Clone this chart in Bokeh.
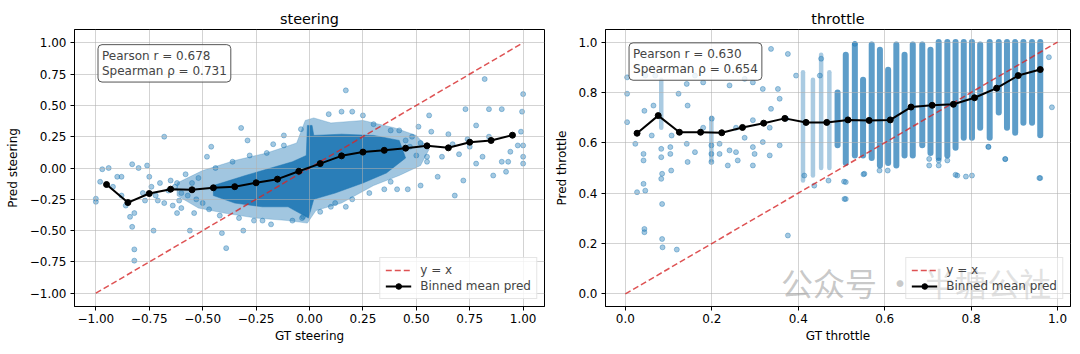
from bokeh.plotting import figure
from bokeh.layouts import row
from bokeh.models import Label, FixedTicker
from bokeh.embed import file_html
from bokeh.resources import INLINE

# ---------------- data ----------------
ST_TICKS = [-1.0, -0.75, -0.5, -0.25, 0.0, 0.25, 0.5, 0.75, 1.0]
ST_TICK_LABELS = ["\u22121.00", "\u22120.75", "\u22120.50", "\u22120.25", "0.00", "0.25", "0.50", "0.75", "1.00"]
TH_TICKS = [0.0, 0.2, 0.4, 0.6, 0.8, 1.0]
TH_TICK_LABELS = ["0.0", "0.2", "0.4", "0.6", "0.8", "1.0"]

ST_STATS = (0.678, 0.731)
TH_STATS = (0.630, 0.654)

ST_REF = [-1.0, 1.0]
TH_REF = [0.0, 1.0]

ST_BIN_X = [-0.95, -0.85, -0.75, -0.65, -0.55, -0.45, -0.35, -0.25, -0.15, -0.05,
            0.05, 0.15, 0.25, 0.35, 0.45, 0.55, 0.65, 0.75, 0.85, 0.95]
ST_BIN_Y = [-0.132, -0.276, -0.204, -0.169, -0.174, -0.158, -0.149, -0.118, -0.089, -0.026,
            0.035, 0.097, 0.127, 0.141, 0.158, 0.177, 0.161, 0.206, 0.220, 0.262]

TH_BIN_X = [0.027, 0.076, 0.125, 0.174, 0.223, 0.271, 0.320, 0.369, 0.418, 0.466,
            0.515, 0.564, 0.613, 0.661, 0.710, 0.759, 0.808, 0.859, 0.909, 0.960]
TH_BIN_Y = [0.638, 0.708, 0.642, 0.642, 0.640, 0.661, 0.678, 0.697, 0.681, 0.681,
            0.691, 0.689, 0.691, 0.742, 0.749, 0.753, 0.779, 0.817, 0.867, 0.891]

# steering: outline of the dense point cloud (outer halo and solid core)
ST_HALO_X = [-0.62, -0.5, -0.35, -0.2, -0.06, -0.02, 0.02, 0.1, 0.25, 0.4, 0.5, 0.56, 0.52,
             0.42, 0.3, 0.15, 0.03, -0.01, -0.1, -0.25, -0.4, -0.52, -0.62]
ST_HALO_Y = [-0.12, -0.02, 0.06, 0.12, 0.2, 0.38, 0.4, 0.36, 0.38, 0.32, 0.26, 0.15, 0.02,
             -0.06, -0.14, -0.28, -0.34, -0.44, -0.42, -0.4, -0.36, -0.32, -0.22]
ST_CORE_X = [-0.45, -0.3, -0.18, -0.08, -0.015, -0.01, 0.012, 0.02, 0.15, 0.3, 0.42, 0.45,
             0.36, 0.25, 0.12, 0.02, -0.005, -0.1, -0.22, -0.35, -0.45]
ST_CORE_Y = [-0.14, -0.06, 0.0, 0.05, 0.1, 0.34, 0.34, 0.26, 0.27, 0.26, 0.22, 0.08,
             -0.04, -0.12, -0.2, -0.25, -0.4, -0.31, -0.31, -0.28, -0.22]

# steering: individual scattered points
ST_PTS_X = [-1.0, -1.0, -0.97, -0.94, -0.98, -0.90, -0.88, -0.83, -0.80, -0.76,
            -0.82, -0.83, -0.82, -0.82, -0.84, -0.73, -0.71, -0.77, -0.68, -0.75,
            -0.62, -0.61, -0.63, -0.56, -0.54, -0.46, -0.48, -0.39, -0.41, -0.32,
            -0.31, -0.29, -0.22, -0.17, -0.12, -0.04, -0.03, -0.035, 0.17, 0.09,
            0.15, 0.20, 0.10, 0.17, 0.25, 0.35, 0.41, 0.46, 0.38, 0.52,
            0.56, 0.60, 0.68, 0.72, 0.73, 0.78, 0.84, 0.82, 0.90, 0.86,
            0.92, 0.93, 0.90, 1.0, 0.995, 0.99, 1.0, 1.0, 1.0, 0.975,
            0.94, 0.51, 0.57, 0.65, 0.70, 0.78, 0.62, 0.47, 0.55, 0.67,
            0.75, 0.81, 0.74, 0.84, -0.65, -0.60, -0.58, -0.52, -0.50, -0.47,
            -0.44, -0.42, -0.36, -0.33, -0.28, -0.26, -0.20, -0.18, -0.12, -0.08,
            0.05, 0.12, 0.20, 0.28, 0.30, 0.38, 0.42, 0.45, 0.48, 0.50,
            0.52, 0.55, -0.78, -0.74, -0.72, -0.70, -0.68, -0.66, -0.64, -0.62,
            -0.60, -0.57, -0.55, -0.53, -0.86, -0.88, -0.92]
ST_PTS_Y = [-0.245, -0.27, -0.01, 0.0, -0.11, -0.07, -0.07, 0.03, 0.0, 0.02,
            -0.36, -0.47, -0.65, -0.74, -0.39, -0.50, -0.26, -0.26, 0.25, -0.07,
            -0.36, -0.26, -0.15, -0.50, -0.36, 0.17, 0.09, -0.64, -0.52, 0.32,
            -0.50, 0.22, -0.42, 0.19, 0.26, 0.31, -0.39, -0.40, 0.62, 0.43,
            0.45, 0.45, -0.31, -0.31, 0.42, -0.17, -0.17, -0.17, -0.11, -0.14,
            0.42, -0.07, -0.22, -0.10, 0.47, 0.34, 0.47, 0.71, 0.47, -0.06,
            -0.03, 0.05, 0.05, 0.59, 0.45, 0.29, 0.18, 0.09, 0.035, 0.18,
            0.13, 0.33, 0.29, 0.27, 0.11, 0.035, 0.09, 0.17, 0.09, 0.19,
            0.17, 0.09, 0.23, 0.25, -0.10, -0.20, -0.05, -0.08, -0.28, -0.33,
            0.0, -0.38, 0.05, -0.40, 0.10, -0.42, 0.12, -0.45, 0.18, -0.42,
            -0.35, -0.28, -0.25, -0.20, 0.35, 0.30, 0.30, 0.22, 0.25, 0.10,
            0.20, 0.05, -0.20, -0.15, -0.22, -0.12, -0.28, -0.18, -0.30, -0.12,
            -0.32, -0.22, -0.12, -0.25, -0.30, -0.22, -0.15]

# throttle: vertical bands of points at discrete GT values
TH_SPARSE_X = [0.083, 0.199, 0.411, 0.434, 0.453, 0.472]
TH_SPARSE_LO = [0.66, 0.53, 0.45, 0.47, 0.50, 0.50]
TH_SPARSE_HI = [0.85, 0.70, 0.88, 0.85, 0.95, 0.88]
TH_BAND_X = [0.491, 0.510, 0.531, 0.550, 0.570, 0.589, 0.608, 0.627, 0.646, 0.665,
             0.687, 0.706, 0.725, 0.745, 0.764, 0.783, 0.802, 0.821, 0.843, 0.864,
             0.883, 0.902, 0.921, 0.941, 0.960]
TH_BAND_LO = [0.59, 0.52, 0.55, 0.55, 0.54, 0.51, 0.52, 0.51, 0.55, 0.55,
              0.59, 0.56, 0.54, 0.55, 0.58, 0.62, 0.62, 0.66, 0.62, 0.72,
              0.66, 0.64, 0.68, 0.68, 0.63]
TH_BAND_HI = [0.80, 0.95, 0.99, 0.85, 0.99, 0.97, 0.89, 0.99, 0.95, 0.99,
              0.99, 0.97, 1.0, 1.0, 1.0, 1.0, 1.0, 0.99, 1.0, 1.0,
              1.0, 1.0, 1.0, 1.0, 1.0]

TH_PTS_X = [0.004, 0.004, 0.004, 0.023, 0.027, 0.046, 0.042, 0.042, 0.042, 0.044,
            0.044, 0.044, 0.046, 0.069, 0.065, 0.061, 0.085, 0.085, 0.086, 0.083,
            0.083, 0.085, 0.083, 0.104, 0.104, 0.106, 0.107, 0.119, 0.123, 0.144,
            0.142, 0.161, 0.142, 0.144, 0.161, 0.180, 0.180, 0.199, 0.199, 0.199,
            0.200, 0.218, 0.218, 0.237, 0.241, 0.241, 0.256, 0.256, 0.260, 0.276,
            0.276, 0.295, 0.295, 0.295, 0.299, 0.295, 0.318, 0.318, 0.334, 0.334,
            0.337, 0.337, 0.353, 0.357, 0.357, 0.372, 0.376, 0.376, 0.395, 0.414,
            0.437, 0.450, 0.453, 0.507, 0.506, 0.551, 0.764, 0.788, 0.840, 0.879,
            0.958, 0.510, 0.510, 0.553, 0.588, 0.607, 0.703, 0.703, 0.725, 0.725,
            0.745, 0.768, 0.802, 0.840, 0.879, 0.960, 0.987, 0.980, 0.531, 0.47]
TH_PTS_Y = [0.795, 0.860, 0.682, 0.596, 0.404, 0.410, 0.437, 0.556, 0.530, 0.727,
            0.258, 0.245, 0.867, 0.867, 0.748, 0.629, 0.357, 0.218, 0.185, 0.576,
            0.543, 0.477, 0.457, 0.583, 0.556, 0.490, 0.629, 0.176, 0.795, 0.748,
            0.834, 0.867, 0.596, 0.524, 0.563, 0.840, 0.660, 0.590, 0.524, 0.556,
            0.696, 0.556, 0.596, 0.510, 0.570, 0.828, 0.660, 0.563, 0.530, 0.854,
            0.620, 0.840, 0.690, 0.583, 0.556, 0.510, 0.814, 0.603, 0.660, 0.550,
            0.735, 0.973, 0.814, 0.775, 0.590, 0.696, 0.953, 0.232, 0.867, 0.470,
            0.430, 0.867, 0.934, 0.377, 0.446, 0.475, 0.473, 0.466, 0.585, 0.535,
            0.460, 0.444, 0.377, 0.477, 0.490, 0.490, 0.510, 0.536, 0.510, 0.530,
            0.530, 0.470, 0.470, 0.583, 0.536, 0.460, 0.741, 0.940, 0.993, 0.450]

WATERMARK = "\u516c\u4f17\u53f7 \u00b7 \u534a\u5858\u516c\u793e"

BLUE = "#1f77b4"
FONT = "DejaVu Sans"
FS = "12px"


def style(p, ticks, labels_x, labels_y, xlabel, ylabel, ylab_standoff):
    p.title.align = "center"
    p.title.text_font = FONT
    p.title.text_font_size = "14.4px"
    p.title.text_font_style = "normal"
    p.title.text_color = "black"
    p.title.standoff = 6
    p.outline_line_color = "black"
    p.outline_line_width = 1
    p.outline_line_alpha = 1
    for ax, lab in ((p.xaxis[0], xlabel), (p.yaxis[0], ylabel)):
        ax.axis_label = lab
        ax.axis_label_text_font = FONT
        ax.axis_label_text_font_size = FS
        ax.axis_label_text_font_style = "normal"
        ax.axis_label_text_color = "black"
        ax.major_label_text_font = FONT
        ax.major_label_text_font_size = FS
        ax.major_label_text_color = "black"
        ax.major_tick_out = 4
        ax.major_tick_in = 0
        ax.minor_tick_out = 0
        ax.minor_tick_in = 0
        ax.axis_line_color = "black"
        ax.major_tick_line_color = "black"
    p.xaxis[0].ticker = FixedTicker(ticks=ticks[0])
    p.yaxis[0].ticker = FixedTicker(ticks=ticks[1])
    p.xaxis[0].major_label_overrides = {t: l for t, l in zip(ticks[0], labels_x)}
    p.yaxis[0].major_label_overrides = {t: l for t, l in zip(ticks[1], labels_y)}
    p.xaxis[0].major_label_standoff = 3
    p.yaxis[0].major_label_standoff = 4
    p.xaxis[0].axis_label_standoff = 3
    p.yaxis[0].axis_label_standoff = ylab_standoff
    p.grid.grid_line_color = "#b0b0b0"
    p.grid.grid_line_alpha = 0.7
    p.grid.grid_line_width = 0.8
    p.grid.level = "underlay"
    p.xgrid.ticker = FixedTicker(ticks=ticks[0])
    p.ygrid.ticker = FixedTicker(ticks=ticks[1])


def legend_style(p, bg_alpha):
    lg = p.legend[0]
    lg.location = "bottom_right"
    lg.label_text_font = FONT
    lg.label_text_font_size = FS
    lg.glyph_width = 26
    lg.glyph_height = 14
    lg.label_height = 14
    lg.label_standoff = 9
    lg.padding = 5
    lg.spacing = 2
    lg.margin = 7
    lg.border_line_color = "#cccccc"
    lg.background_fill_alpha = bg_alpha


def stats_label(x, y, stats):
    return Label(x=x, y=y, text="Pearson r = %.3f\nSpearman \u03c1 = %.3f" % stats,
                 text_font=FONT, text_font_size=FS, text_align="left", text_baseline="top",
                 text_line_height=1.1,
                 background_fill_color="white", background_fill_alpha=0.8,
                 border_line_color="#555555", border_line_width=1, border_radius=4, padding=4)


# ---------------- steering ----------------
p1 = figure(width=552, height=354, x_range=(-1.1, 1.1), y_range=(-1.106, 1.106),
            output_backend="svg", toolbar_location=None, title="steering",
            min_border_left=74, min_border_right=8, min_border_top=29, min_border_bottom=48)
r = p1.patch(ST_HALO_X, ST_HALO_Y, fill_color=BLUE, fill_alpha=0.42, line_color=BLUE, line_alpha=0.25)
r.level = "image"
r = p1.patch(ST_CORE_X, ST_CORE_Y, fill_color=BLUE, fill_alpha=0.92, line_color=BLUE, line_alpha=0.5)
r.level = "image"
r = p1.scatter(ST_PTS_X, ST_PTS_Y, size=5, color=BLUE, alpha=0.4)
r.level = "image"
p1.line(ST_REF, ST_REF, color="#d62728", alpha=0.8, line_width=1.5, line_dash="6 3", legend_label="y = x")
p1.line(ST_BIN_X, ST_BIN_Y, color="black", line_width=2, legend_label="Binned mean pred")
p1.scatter(ST_BIN_X, ST_BIN_Y, size=6, color="black", legend_label="Binned mean pred")
style(p1, (ST_TICKS, ST_TICKS), ST_TICK_LABELS, ST_TICK_LABELS, "GT steering", "Pred steering", 7)
legend_style(p1, 0.8)
p1.add_layout(stats_label(-0.99, 0.985, ST_STATS))

# ---------------- throttle ----------------
p2 = figure(width=528, height=354, x_range=(-0.046, 1.03), y_range=(-0.05, 1.05),
            output_backend="svg", toolbar_location=None, title="throttle",
            min_border_left=51, min_border_right=10, min_border_top=29, min_border_bottom=48)
wm = Label(x=0.36, y=-0.045, text=WATERMARK,
           text_font="Noto Sans CJK SC", text_font_size="32px", text_color="#9a9a9a",
           text_alpha=0.55, text_baseline="bottom", text_align="left")
p2.add_layout(wm)
r = p2.segment(TH_SPARSE_X, TH_SPARSE_LO, TH_SPARSE_X, TH_SPARSE_HI, line_width=4.5,
               line_cap="round", color=BLUE, alpha=0.38)
r.level = "image"
r = p2.segment(TH_BAND_X, TH_BAND_LO, TH_BAND_X, TH_BAND_HI, line_width=6,
               line_cap="round", color=BLUE, alpha=0.72)
r.level = "image"
r = p2.scatter(TH_PTS_X, TH_PTS_Y, size=5, color=BLUE, alpha=0.4)
r.level = "image"
p2.line(TH_REF, TH_REF, color="#d62728", alpha=0.8, line_width=1.5, line_dash="6 3", legend_label="y = x")
p2.line(TH_BIN_X, TH_BIN_Y, color="black", line_width=2, legend_label="Binned mean pred")
p2.scatter(TH_BIN_X, TH_BIN_Y, size=6, color="black", legend_label="Binned mean pred")
style(p2, (TH_TICKS, TH_TICKS), TH_TICK_LABELS, TH_TICK_LABELS, "GT throttle", "Pred throttle", 6)
legend_style(p2, 0.45)
p2.add_layout(stats_label(0.0085, 0.997, TH_STATS))

layout = row(p1, p2)
open("out.html", "w").write(file_html(layout, INLINE))
